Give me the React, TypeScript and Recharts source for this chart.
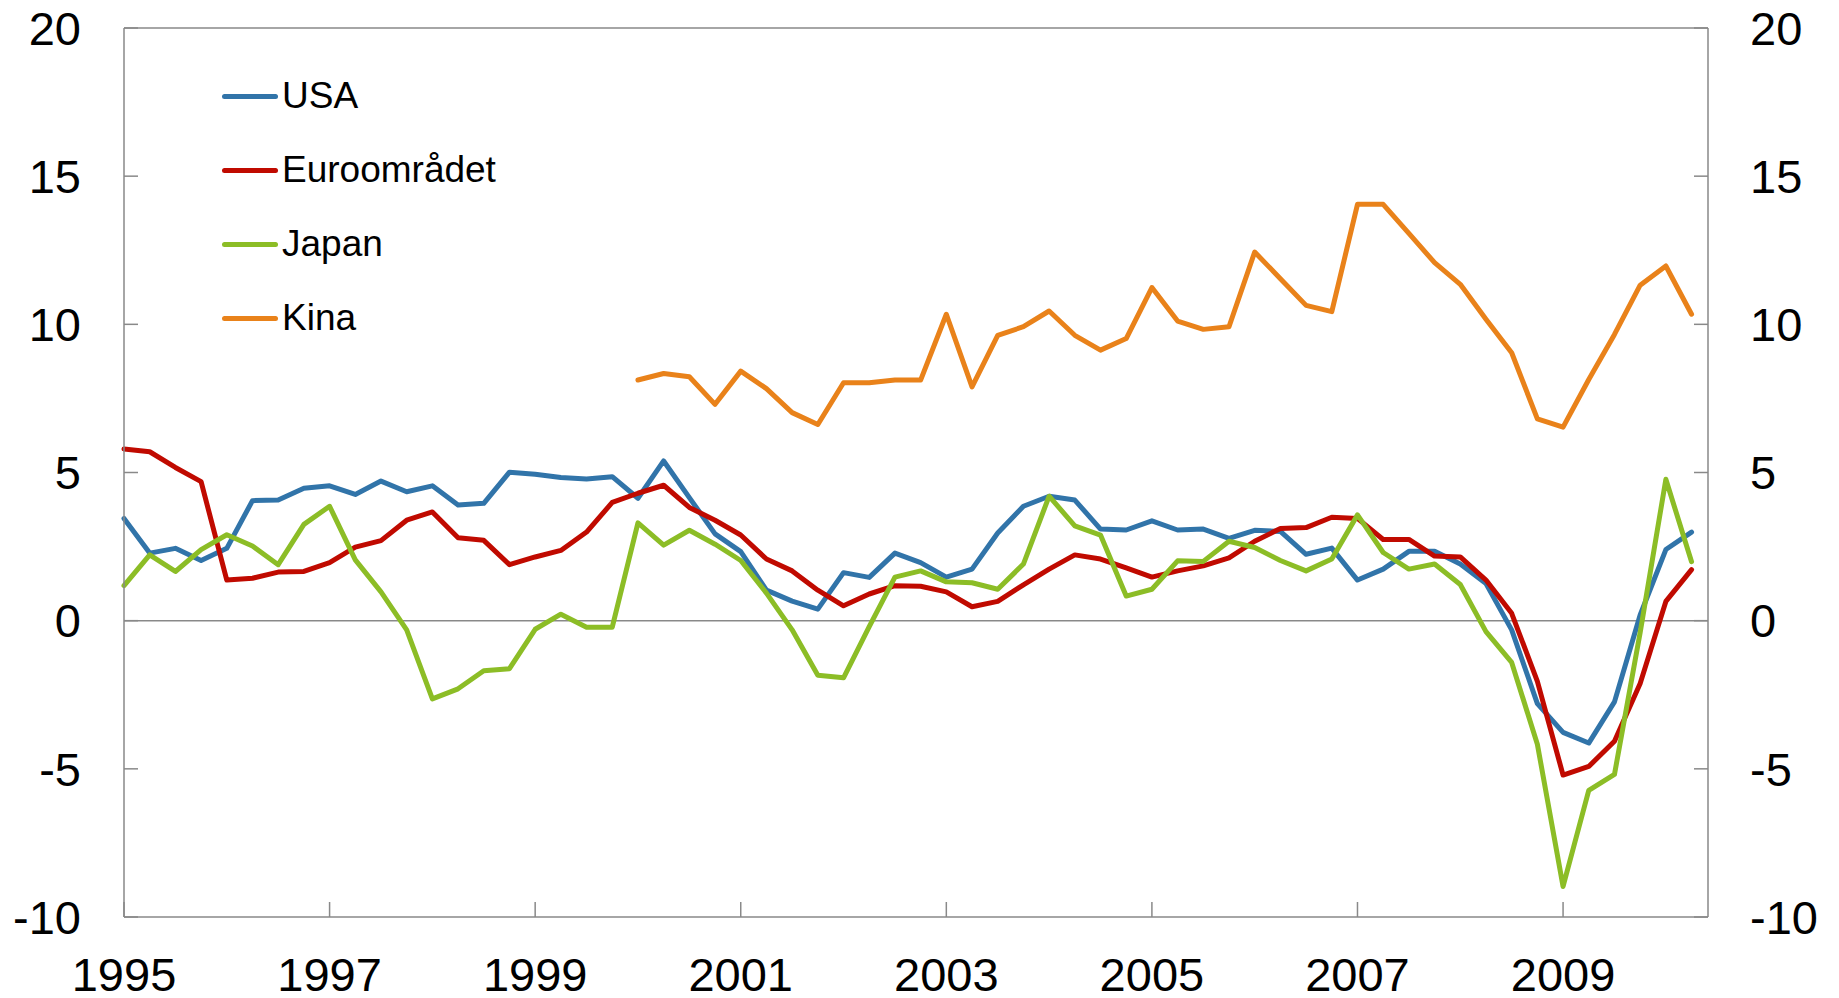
import React from 'react';
import { LineChart, Line, XAxis, YAxis, ReferenceLine, Legend } from 'recharts';

// Quarterly data, 1995Q1 - 2010Q2
const quarters = [
  '1995Q1', '1995Q2', '1995Q3', '1995Q4',
  '1996Q1', '1996Q2', '1996Q3', '1996Q4',
  '1997Q1', '1997Q2', '1997Q3', '1997Q4',
  '1998Q1', '1998Q2', '1998Q3', '1998Q4',
  '1999Q1', '1999Q2', '1999Q3', '1999Q4',
  '2000Q1', '2000Q2', '2000Q3', '2000Q4',
  '2001Q1', '2001Q2', '2001Q3', '2001Q4',
  '2002Q1', '2002Q2', '2002Q3', '2002Q4',
  '2003Q1', '2003Q2', '2003Q3', '2003Q4',
  '2004Q1', '2004Q2', '2004Q3', '2004Q4',
  '2005Q1', '2005Q2', '2005Q3', '2005Q4',
  '2006Q1', '2006Q2', '2006Q3', '2006Q4',
  '2007Q1', '2007Q2', '2007Q3', '2007Q4',
  '2008Q1', '2008Q2', '2008Q3', '2008Q4',
  '2009Q1', '2009Q2', '2009Q3', '2009Q4',
  '2010Q1', '2010Q2',
];

const usa = [
  3.45, 2.28, 2.44, 2.03, 2.44, 4.05, 4.07, 4.47, 4.55, 4.26,
  4.71, 4.35, 4.55, 3.9, 3.96, 5.01, 4.94, 4.83, 4.78, 4.86,
  4.13, 5.39, 4.15, 2.93, 2.33, 1.03, 0.66, 0.39, 1.62, 1.46,
  2.28, 1.96, 1.47, 1.74, 2.96, 3.86, 4.2, 4.07, 3.09, 3.06,
  3.37, 3.06, 3.09, 2.78, 3.05, 3.01, 2.24, 2.45, 1.37, 1.74,
  2.34, 2.34, 1.91, 1.25, -0.31, -2.8, -3.77, -4.13, -2.74, 0.19,
  2.4, 2.99,
];

const euro = [
  5.79, 5.7, 5.17, 4.69, 1.37, 1.43, 1.64, 1.66, 1.96, 2.48,
  2.7, 3.39, 3.67, 2.8, 2.71, 1.89, 2.15, 2.37, 2.99, 3.99,
  4.3, 4.57, 3.82, 3.39, 2.89, 2.08, 1.68, 1.03, 0.5, 0.9,
  1.18, 1.16, 0.97, 0.47, 0.65, 1.21, 1.74, 2.22, 2.08, 1.78,
  1.47, 1.68, 1.85, 2.12, 2.68, 3.11, 3.14, 3.49, 3.45, 2.74,
  2.74, 2.18, 2.15, 1.37, 0.25, -2.05, -5.21, -4.92, -4.07, -2.12,
  0.65, 1.72,
];

const japan = [
  1.18, 2.22, 1.66, 2.4, 2.9, 2.52, 1.89, 3.25, 3.86, 2.05,
  0.97, -0.31, -2.64, -2.3, -1.69, -1.62, -0.29, 0.22, -0.22, -0.22,
  3.3, 2.55, 3.05, 2.58, 2.03, 0.93, -0.31, -1.84, -1.93, -0.2,
  1.47, 1.68, 1.31, 1.28, 1.06, 1.91, 4.2, 3.2, 2.89, 0.83,
  1.06, 2.02, 2.0, 2.68, 2.47, 2.03, 1.68, 2.08, 3.57, 2.3,
  1.74, 1.91, 1.22, -0.37, -1.41, -4.17, -8.97, -5.73, -5.19, -0.4,
  4.77, 1.99,
];

// China series starts in 2000
const kina = [
  null, null, null, null, null, null, null, null, null, null,
  null, null, null, null, null, null, null, null, null, null,
  8.12, 8.34, 8.23, 7.3, 8.42, 7.83, 7.02, 6.62, 8.03, 8.03,
  8.12, 8.12, 10.34, 7.89, 9.63, 9.92, 10.45, 9.63, 9.13, 9.52,
  11.24, 10.11, 9.83, 9.92, 12.44, 11.54, 10.64, 10.43, 14.05, 14.05,
  13.07, 12.08, 11.35, 10.17, 9.04, 6.81, 6.53, 8.14, 9.66, 11.32,
  11.97, 10.34,
];

const yearTicks = [1995, 1997, 1999, 2001, 2003, 2005, 2007, 2009];
const valueTicks = [-10, -5, 0, 5, 10, 15, 20];

// kina is plotted against the right axis (same scale) so that axis gets drawn
const series = [
  { key: 'usa', name: 'USA', color: '#3174a9', axis: 'left' },
  { key: 'euro', name: 'Euroområdet', color: '#c00a00', axis: 'left' },
  { key: 'japan', name: 'Japan', color: '#8cbd26', axis: 'left' },
  { key: 'kina', name: 'Kina', color: '#e9821a', axis: 'right' },
];

const data = quarters.map((q, i) => ({
  t: Number(q.slice(0, 4)) + (Number(q.slice(5)) - 1) / 4,
  usa: usa[i],
  euro: euro[i],
  japan: japan[i],
  kina: kina[i],
}));

const FONT = '"Liberation Sans", Arial, Helvetica, sans-serif';
const AXIS = '#898989';

const LegendBox = () => (
  <div style={{ fontFamily: FONT, fontSize: 37, color: '#000' }}>
    {series.map(s => (
      <div key={s.key} style={{ display: 'flex', alignItems: 'center', height: 74 }}>
        <span
          style={{
            display: 'inline-block',
            width: 56,
            height: 5,
            borderRadius: 3,
            background: s.color,
            marginRight: 4,
          }}
        />
        <span>{s.name}</span>
      </div>
    ))}
  </div>
);

const App = () => {
  const tickStyle = { fontSize: 47, fill: '#000', fontFamily: FONT };
  return (
    <div style={{ position: 'absolute', left: 0, top: 0, width: 1839, height: 998, background: '#fff' }}>
      <LineChart
        width={1839}
        height={998}
        data={data}
        margin={{ top: 28, right: 31, bottom: 21, left: 24 }}
        style={{ fontFamily: FONT }}
      >
        <XAxis
          dataKey="t"
          type="number"
          domain={[1995, 2010.41]}
          ticks={yearTicks}
          interval={0}
          height={60}
          tick={tickStyle}
          tickSize={-15}
          tickMargin={56}
          axisLine={{ stroke: AXIS, strokeWidth: 1.5 }}
          tickLine={{ stroke: AXIS, strokeWidth: 1.5 }}
        />
        <YAxis
          yAxisId="left"
          orientation="left"
          width={100}
          domain={[-10, 20]}
          ticks={valueTicks}
          interval={0}
          tick={tickStyle}
          tickSize={-14}
          tickMargin={57}
          axisLine={{ stroke: AXIS, strokeWidth: 1.5 }}
          tickLine={{ stroke: AXIS, strokeWidth: 1.5 }}
        />
        <YAxis
          yAxisId="right"
          orientation="right"
          width={100}
          domain={[-10, 20]}
          ticks={valueTicks}
          interval={0}
          tick={tickStyle}
          tickSize={-14}
          tickMargin={56}
          axisLine={{ stroke: AXIS, strokeWidth: 1.5 }}
          tickLine={{ stroke: AXIS, strokeWidth: 1.5 }}
        />
        <ReferenceLine yAxisId="left" y={20} stroke={AXIS} strokeWidth={1.5} />
        <ReferenceLine yAxisId="left" y={0} stroke={AXIS} strokeWidth={1.5} />
        <Legend
          layout="vertical"
          align="center"
          verticalAlign="middle"
          content={() => <LegendBox />}
          wrapperStyle={{ left: 222, top: 59, width: 320 }}
        />
        {series.map(s => (
          <Line
            key={s.key}
            yAxisId={s.axis}
            type="linear"
            dataKey={s.key}
            name={s.name}
            stroke={s.color}
            strokeWidth={5}
            strokeLinecap="round"
            strokeLinejoin="round"
            dot={false}
            activeDot={false}
            isAnimationActive={false}
          />
        ))}
      </LineChart>
    </div>
  );
};

export default App;
